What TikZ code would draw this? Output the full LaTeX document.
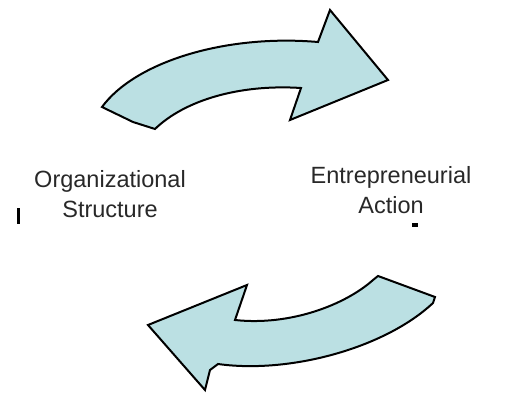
\documentclass[tikz,border=0pt]{standalone}
\usepackage{fontspec}
\setmainfont{Liberation Sans}
\definecolor{arrowfill}{RGB}{187,224,227}
\definecolor{labeltext}{RGB}{40,40,40}
\begin{document}
\begin{tikzpicture}[x=1pt,y=-1pt,
  bigarrow/.style={draw=black,line width=2pt,line join=miter,fill=arrowfill},
  label/.style={align=center,text=labeltext,font=\fontsize{23.5}{29.5}\selectfont,inner sep=0pt},
  strayblot/.style={fill=black,draw=none}]
\useasboundingbox (0,0) rectangle (514,393);
% upper arrow, pointing right
\path[bigarrow] (102,107) .. controls (135,62) and (225,34) .. (318,42)
  -- (330,10) -- (388,80) -- (290,120) -- (301,88)
  .. controls (240,84) and (185,100) .. (155,129)
  -- (133,122) -- cycle;
% lower arrow, pointing left
\path[bigarrow] (378,276) -- (435,297) -- (433,303)
  .. controls (385,348) and (290,374) .. (218,364)
  -- (210,370) -- (205,390) -- (148,325) -- (247,285) -- (235,320)
  .. controls (290,326) and (345,305) .. (373,280) -- cycle;
% labels (base anchor sits on the last line)
\node[label,anchor=base] (org) at (110,217) {Organizational\\Structure};
\node[label,anchor=base] (ent) at (391,213) {Entrepreneurial\\Action};
% small marks
\fill[strayblot] (17,208) rectangle (20,224);
\fill[strayblot] (412,223) rectangle (418,227);
\end{tikzpicture}
\end{document}
